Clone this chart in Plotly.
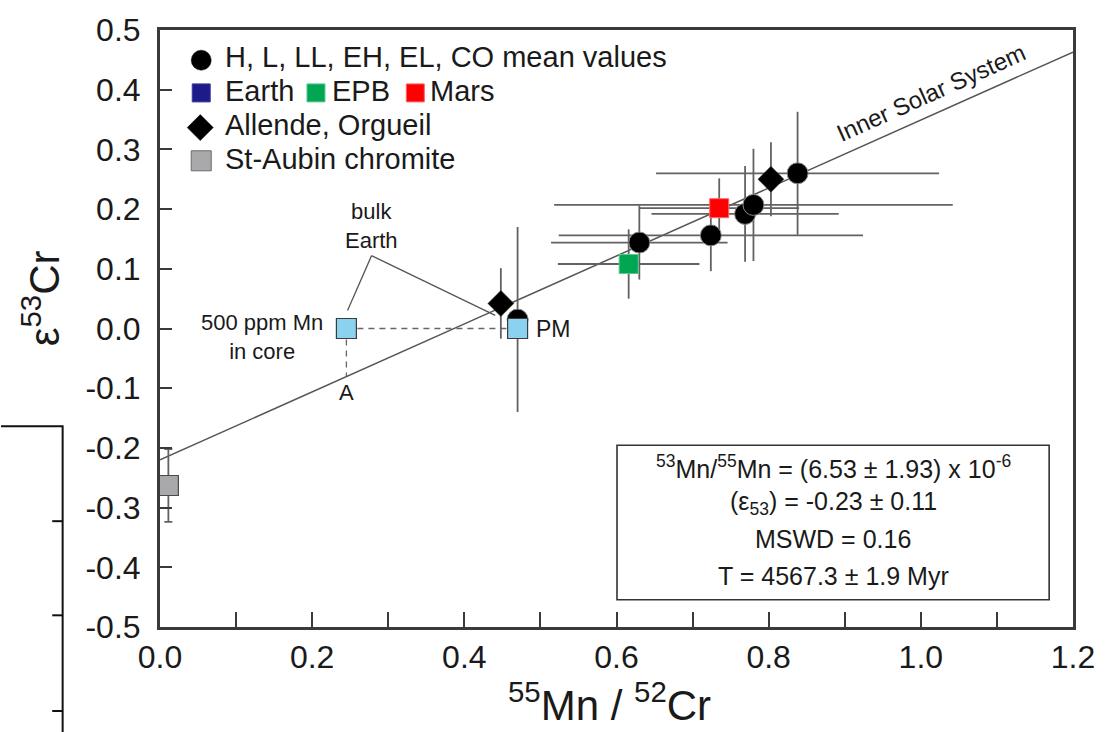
import plotly.graph_objects as go

# ---------------- data ----------------
chond_x = [0.470, 0.630, 0.724, 0.769, 0.780, 0.838]
chond_y = [0.015, 0.144, 0.156, 0.192, 0.207, 0.260]
chond_xerr = [0.0, 0.116, 0.200, 0.123, 0.262, 0.186]
chond_yerr = [0.155, 0.062, 0.060, 0.080, 0.094, 0.103]

cc_x = [0.448, 0.803]          # Allende, Orgueil
cc_y = [0.042, 0.250]
cc_yerr = [0.059, 0.062]

mars_x = [0.735]
mars_y = [0.2015]
mars_xerr = [0.105]
mars_yerr = [0.050]

epb_x = [0.616]
epb_y = [0.108]
epb_xerr = [0.093]
epb_yerr = [0.058]

bulk_earth_x = [0.245, 0.470]
bulk_earth_y = [0.0, 0.0]

staubin_x = [0.011]
staubin_y = [-0.263]
staubin_yerr = [0.061]

iss_x = [0.0, 1.2]             # Inner Solar System isochron
iss_y = [-0.22, 0.463]

core_x = [0.245, 0.470, None, 0.245, 0.245]
core_y = [0.0, 0.0, None, 0.0, -0.08]

x_tick_vals = [0.0, 0.2, 0.4, 0.6, 0.8, 1.0, 1.2]
x_tick_text = ["0.0", "0.2", "0.4", "0.6", "0.8", "1.0", "1.2"]
x_minor_vals = [0.1, 0.3, 0.5, 0.7, 0.9, 1.1]
y_tick_vals = [0.5, 0.4, 0.3, 0.2, 0.1, 0.0, -0.1, -0.2, -0.3, -0.4, -0.5]
y_tick_text = ["0.5", "0.4", "0.3", "0.2", "0.1", "0.0", "-0.1", "-0.2", "-0.3", "-0.4", "-0.5"]

FONT = "Liberation Sans, Arial, Helvetica, sans-serif"
TXT = "#1a1a1a"
AX = "#3a3a3a"
ERR = "#626262"

# plot-area geometry helpers (pixels -> paper) for decorations
L, R, T, B = 160, 1079, 25, 627.5
def px(xp):
    return (xp - L) / (R - L)
def py(yp):
    return (B - yp) / (B - T)

fig = go.Figure()

# isochron line
fig.add_trace(go.Scatter(x=iss_x, y=iss_y, mode="lines",
                         line=dict(color="#555555", width=1.5), hoverinfo="skip"))
# dashed core construction
fig.add_trace(go.Scatter(x=core_x, y=core_y, mode="lines",
                         line=dict(color="#666666", width=1.3, dash="6px,5px"), hoverinfo="skip"))

def err_trace(x, y, xe=None, ye=None, cap=0):
    kw = {}
    if xe is not None:
        kw["error_x"] = dict(type="data", array=xe, visible=True, color=ERR, thickness=1.8, width=cap)
    if ye is not None:
        kw["error_y"] = dict(type="data", array=ye, visible=True, color=ERR, thickness=1.8, width=cap)
    return go.Scatter(x=x, y=y, mode="markers",
                      marker=dict(size=1, color="rgba(0,0,0,0)"), hoverinfo="skip", **kw)

fig.add_trace(err_trace(chond_x, chond_y, chond_xerr, chond_yerr))
fig.add_trace(err_trace(cc_x, cc_y, None, cc_yerr))
fig.add_trace(err_trace(mars_x, mars_y, mars_xerr, mars_yerr))
fig.add_trace(err_trace(epb_x, epb_y, epb_xerr, epb_yerr))
fig.add_trace(err_trace(staubin_x, staubin_y, None, staubin_yerr, cap=4))

# markers
fig.add_trace(go.Scatter(x=chond_x, y=chond_y, mode="markers",
                         marker=dict(symbol="circle", size=21, color="#000000",
                                     line=dict(color="#8a8a8a", width=1))))
fig.add_trace(go.Scatter(x=cc_x, y=cc_y, mode="markers",
                         marker=dict(symbol="diamond", size=20, color="#000000",
                                     line=dict(color="#333333", width=0.5))))
fig.add_trace(go.Scatter(x=epb_x, y=epb_y, mode="markers",
                         marker=dict(symbol="square", size=19, color="#00a651",
                                     line=dict(color="#5cc98a", width=1))))
fig.add_trace(go.Scatter(x=mars_x, y=mars_y, mode="markers",
                         marker=dict(symbol="square", size=19, color="#ff0000",
                                     line=dict(color="#ff6666", width=1))))
fig.add_trace(go.Scatter(x=bulk_earth_x, y=bulk_earth_y, mode="markers",
                         marker=dict(symbol="square", size=20, color="#8ad2f0",
                                     line=dict(color="#3c3c3c", width=1.2))))
fig.add_trace(go.Scatter(x=staubin_x, y=staubin_y, mode="markers",
                         marker=dict(symbol="square", size=20, color="#a9a9ab",
                                     line=dict(color="#4a4a4a", width=1.2))))

shapes = []
annotations = []

# ---- legend (symbols as pixel-sized shapes, text as annotations) ----
def sym_circle(cx, cy, d, color):
    shapes.append(dict(type="circle", xref="paper", yref="paper",
                       xsizemode="pixel", ysizemode="pixel",
                       xanchor=px(cx), yanchor=py(cy),
                       x0=-d/2, x1=d/2, y0=-d/2, y1=d/2,
                       fillcolor=color, line=dict(color=color, width=0.5)))

def sym_square(cx, cy, s, color, lc):
    shapes.append(dict(type="rect", xref="paper", yref="paper",
                       xsizemode="pixel", ysizemode="pixel",
                       xanchor=px(cx), yanchor=py(cy),
                       x0=-s/2, x1=s/2, y0=-s/2, y1=s/2,
                       fillcolor=color, line=dict(color=lc, width=1)))

def sym_diamond(cx, cy, s, color):
    h = s / 2
    shapes.append(dict(type="path", xref="paper", yref="paper",
                       xsizemode="pixel", ysizemode="pixel",
                       xanchor=px(cx), yanchor=py(cy),
                       path=f"M {-h} 0 L 0 {h} L {h} 0 L 0 {-h} Z",
                       fillcolor=color, line=dict(color=color, width=0.5)))

def leg_text(x, y, text, size=29):
    annotations.append(dict(x=px(x), y=py(y), xref="paper", yref="paper",
                            text=text, showarrow=False, xanchor="left", yanchor="middle",
                            font=dict(family=FONT, size=size, color=TXT)))

sym_circle(201.5, 55.5, 20, "#000000")
leg_text(223, 52.5, "H, L, LL, EH, EL, CO mean values")
sym_square(201.5, 88.5, 18, "#1f1a8a", "#3a3aa0")
leg_text(223, 86.5, "Earth")
sym_square(317, 88.5, 18, "#00a651", "#5cc98a")
leg_text(331, 86.5, "EPB")
sym_square(417, 88.5, 18, "#ff0000", "#ff6666")
leg_text(430, 86.5, "Mars")
sym_diamond(200.5, 123.5, 26, "#000000")
leg_text(223, 121, "Allende, Orgueil")
sym_square(201.5, 157, 20, "#a9a9ab", "#6a6a6a")
leg_text(223, 155, "St-Aubin chromite")

# ---- result box ----
shapes.append(dict(type="rect", xref="paper", yref="paper",
                   x0=px(620), x1=px(1055), y0=py(600), y1=py(444),
                   line=dict(color="#333333", width=1.6), fillcolor="rgba(0,0,0,0)"))
box_lines = [
    ("<sup>53</sup>Mn/<sup>55</sup>Mn = (6.53 ± 1.93) x 10<sup>-6</sup>", 466),
    ("(ε<sub>53</sub>) = -0.23 ± 0.11", 502),
    ("MSWD = 0.16", 539),
    ("T = 4567.3 ± 1.9 Myr", 576),
]
for t, yy in box_lines:
    annotations.append(dict(x=px(837.5), y=py(yy), xref="paper", yref="paper",
                            text=t, showarrow=False, xanchor="center", yanchor="middle",
                            font=dict(family=FONT, size=25, color=TXT)))

# ---- leader lines for bulk Earth ----
shapes.append(dict(type="line", xref="x", yref="y", x0=0.278, y0=0.122, x1=0.2465, y1=0.030,
                   line=dict(color="#555555", width=1.3)))
shapes.append(dict(type="line", xref="x", yref="y", x0=0.278, y0=0.122, x1=0.4406, y1=0.022,
                   line=dict(color="#555555", width=1.3)))

# ---- in-plot text ----
def data_text(x, y, text, size=21, xanchor="center", angle=0):
    annotations.append(dict(x=x, y=y, xref="x", yref="y", text=text, showarrow=False,
                            xanchor=xanchor, yanchor="middle", textangle=angle,
                            font=dict(family=FONT, size=size, color=TXT)))

data_text(0.278, 0.172, "bulk<br>Earth", size=22)
data_text(0.1345, -0.015, "500 ppm Mn<br>in core", size=22)
data_text(0.491, 0.0, "PM", size=23, xanchor="left")
data_text(0.2454, -0.108, "A", size=22)
data_text(1.014, 0.395, "Inner Solar System", size=24, angle=-24.2)

# ---- axis titles ----
annotations.append(dict(x=px(612), y=py(703), xref="paper", yref="paper",
                        text="<sup>55</sup>Mn / <sup>52</sup>Cr", showarrow=False,
                        xanchor="center", yanchor="middle",
                        font=dict(family=FONT, size=42, color=TXT)))
annotations.append(dict(x=px(40), y=py(296), xref="paper", yref="paper",
                        text="ε<sup>53</sup>Cr", showarrow=False, textangle=-90,
                        xanchor="center", yanchor="middle",
                        font=dict(family=FONT, size=42, color=TXT)))

# ---- fragment of neighbouring panel at left edge ----
shapes.append(dict(type="path", xref="paper", yref="paper",
                   path=f"M {px(0)} {py(425)} L {px(62)} {py(425)} L {px(62)} {py(740)}",
                   line=dict(color="#111111", width=2)))
for ty in [520.7, 615.7, 712.3]:
    shapes.append(dict(type="line", xref="paper", yref="paper",
                       x0=px(51.5), x1=px(62), y0=py(ty), y1=py(ty),
                       line=dict(color="#111111", width=2)))

fig.update_layout(
    width=1107, height=732,
    margin=dict(l=L, r=1107 - R, t=T, b=732 - B),
    paper_bgcolor="white", plot_bgcolor="white",
    showlegend=False,
    shapes=shapes, annotations=annotations,
    font=dict(family=FONT, color=TXT),
    xaxis=dict(range=[0, 1.2], tickvals=x_tick_vals, ticktext=x_tick_text,
               ticks="inside", ticklen=15, tickwidth=2, tickcolor=AX,
               minor=dict(tickvals=x_minor_vals, ticks="inside", ticklen=15,
                          tickwidth=2, tickcolor=AX),
               showline=True, linewidth=3, linecolor=AX, mirror=True,
               showgrid=False, zeroline=False, ticklabelstandoff=0,
               tickfont=dict(family=FONT, size=32, color=TXT)),
    yaxis=dict(range=[-0.5, 0.5], tickvals=y_tick_vals, ticktext=y_tick_text,
               ticks="inside", ticklen=12, tickwidth=2, tickcolor=AX,
               showline=True, linewidth=3, linecolor=AX, mirror=True,
               showgrid=False, zeroline=False, ticklabelstandoff=10,
               tickfont=dict(family=FONT, size=32, color=TXT)),
)

fig.write_html("out.html")
